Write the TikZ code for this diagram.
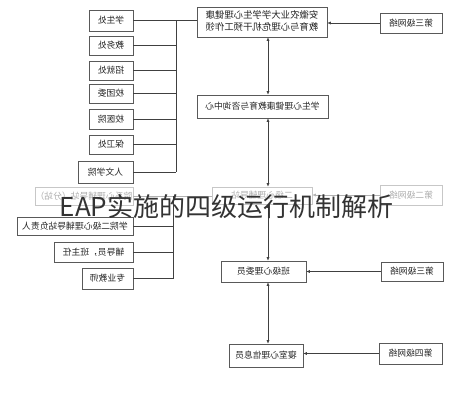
\documentclass[tikz,border=0pt]{standalone}
\usepackage{graphicx}
\usepackage{fontspec}
\newfontfamily\cjk{Noto Sans CJK SC}
\usetikzlibrary{arrows.meta}
\newcommand{\mir}[1]{\reflectbox{#1}}
\begin{document}
\begin{tikzpicture}[x=1pt,y=-1pt,
    box/.style={draw=black!65,line width=0.6pt,fill=white,inner sep=0pt,font=\cjk\fontsize{8.8}{10.5}\selectfont,text=black!85},
    pale/.style={box,draw=black!22,text=black!32},
    link/.style={draw=black!75,line width=0.6pt},
    tip/.style={link,{Latex[length=3.5pt,width=3pt]}-{Latex[length=3.5pt,width=3pt]}},
    onetip/.style={link,-{Latex[length=3.5pt,width=3pt]}}]
      \useasboundingbox[fill=white] (0,0) rectangle (459,400);
      \node[box,minimum width=44pt,minimum height=21pt] (xs) at (111,20.5) {\mir{学生处}};
      \node[box,minimum width=44pt,minimum height=19pt] (jw) at (111,45.5) {\mir{教务处}};
      \node[box,minimum width=44pt,minimum height=19pt] (zj) at (111,70.5) {\mir{招就处}};
      \node[box,minimum width=44pt,minimum height=19pt] (tw) at (111,93.5) {\mir{校团委}};
      \node[box,minimum width=44pt,minimum height=20pt] (yy) at (111,119) {\mir{校医院}};
      \node[box,minimum width=44pt,minimum height=19pt] (bw) at (111,144.5) {\mir{保卫处}};
      \node[box,minimum width=55pt,minimum height=22pt] (rw) at (105.5,172) {\mir{人文学院}};
      \coordinate (bus) at (176,0);
      \node[box,minimum width=130pt,minimum height=30pt,font=\cjk\fontsize{9.4}{11.5}\selectfont] (top) at (262,22)
        {\mir{\begin{tabular}{@{}l@{}}安徽农业大学学生心理健康\\教育与心理危机干预工作领\end{tabular}}};
      \draw[link] (xs.east) -- (xs.east -| top.west);
      \draw[link] (xs.east -| bus) -- (rw.east -| bus);
      \foreach \n in {jw,zj,tw,yy,bw,rw}
        \draw[link] (\n.east) -- (\n.east -| bus);
      \node[box,minimum width=62pt,minimum height=20pt] (n1) at (411,23) {\mir{第三级网络}};
      \draw[onetip] (n1.west) -- (n1.west -| top.east);
      \coordinate (sp) at (268,0);
      \node[box,minimum width=131pt,minimum height=23pt] (mid) at (262.5,106.5) {\mir{学生心理健康教育与咨询中心}};
      \draw[tip] (top.south -| sp) -- (mid.north -| sp);
      \node[pale,minimum width=100pt,minimum height=17pt] (sub) at (262,195.5) {\mir{二级心理辅导站}};
      \node[pale,minimum width=62pt,minimum height=20pt] (n2) at (411,195) {\mir{第二级网络}};
      \node[pale,minimum width=98pt,minimum height=18pt] (sta) at (84,196) {\mir{院系心理辅导站（分站）}};
      \draw[tip] (mid.south -| sp) -- (sub.north -| sp);
      \draw[link,draw=black!30,-{Latex[length=3.5pt,width=3pt]}] (n2.west) -- (n2.west -| sub.east);
      \draw[link,draw=black!30] (sta.east) -- (sta.east -| sub.west);
      \coordinate (bus2) at (173,0);
      \node[box,minimum width=116pt,minimum height=18pt] (fzr) at (75,226) {\mir{学院二级心理辅导站负责人}};
      \node[box,minimum width=79pt,minimum height=20pt] (fdy) at (93.5,252) {\mir{辅导员，班主任}};
      \node[box,minimum width=51pt,minimum height=21pt] (zy) at (107.5,278.5) {\mir{专业教师}};
      \draw[link] (sta.east -| bus2) -- (zy.east -| bus2);
      \foreach \n in {fzr,fdy,zy}
        \draw[link] (\n.east) -- (\n.east -| bus2);
      \node[box,minimum width=85pt,minimum height=21pt] (bj) at (263.5,271.5) {\mir{班级心理委员}};
      \node[box,minimum width=62pt,minimum height=19pt] (n3) at (412,271.5) {\mir{第三级网络}};
      \draw[tip] (sub.south -| sp) -- (bj.north -| sp);
      \draw[onetip] (n3.west) -- (n3.west -| bj.east);
      \node[box,minimum width=74pt,minimum height=23pt] (qs) at (266,355.5) {\mir{寝室心理信息员}};
      \node[box,minimum width=63pt,minimum height=21pt] (n4) at (410.5,353.5) {\mir{第四级网络}};
      \draw[tip] (bj.south -| sp) -- (qs.north -| sp);
      \draw[onetip] (n4.west) -- (n4.west -| qs.east);
      \node[font=\cjk\fontsize{26}{28}\selectfont,text=black!80,inner sep=0pt] (cap) at (226.5,207) {EAP实施的四级运行机制解析};
\end{tikzpicture}
\end{document}
